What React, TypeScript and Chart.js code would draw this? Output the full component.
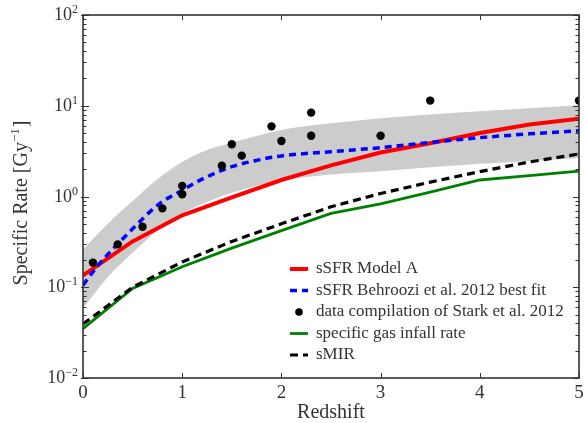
import React, { useEffect, useRef } from "react";
import { Chart, registerables } from "chart.js";
Chart.register(...registerables);

// ---- data ----
const bandZ = [0, 0.25, 0.5, 0.75, 1, 1.25, 1.5, 2, 2.5, 3, 3.5, 4, 4.5, 5];
const bandUpper = [0.26, 0.5, 0.89, 1.55, 2.4, 3.25, 3.9, 5.4, 6.4, 7.3, 8.0, 8.7, 9.4, 10.1];
const bandLower = [0.059, 0.13, 0.24, 0.42, 0.65, 0.87, 1.1, 1.5, 1.75, 1.9, 2.1, 2.3, 2.45, 2.65];

const modelZ = [0, 0.5, 1, 1.5, 2, 2.5, 3, 3.5, 4, 4.5, 5];
const modelA = [0.135, 0.32, 0.62, 0.98, 1.52, 2.2, 3.05, 3.86, 5.0, 6.2, 7.2];
const infallRate = [0.035, 0.097, 0.168, 0.27, 0.42, 0.65, 0.83, 1.12, 1.52, 1.7, 1.9];
const smirRate = [0.0394, 0.1, 0.19, 0.32, 0.5, 0.77, 1.08, 1.44, 1.88, 2.4, 2.94];

const behrooziZ = [0, 0.1, 0.25, 0.5, 0.75, 1, 1.25, 1.5, 1.75, 2, 2.5, 3, 3.5, 4, 4.5, 5];
const behrooziRate = [0.105, 0.148, 0.23, 0.44, 0.8, 1.17, 1.65, 2.13, 2.5, 2.8, 3.12, 3.45, 3.95, 4.45, 4.9, 5.3];

const starkZ = [0.1, 0.35, 0.6, 0.8, 1.0, 1.0, 1.4, 1.5, 1.6, 1.9, 2.0, 2.3, 2.3, 3.0, 3.5, 5.0];
const starkRate = [0.187, 0.297, 0.465, 0.74, 1.31, 1.06, 2.18, 3.76, 2.82, 5.93, 4.09, 8.4, 4.68, 4.68, 11.4, 11.4];

const yTickExponents = [-2, -1, 0, 1, 2];
const xTickValues = [0, 1, 2, 3, 4, 5];

const SERIF = "'Liberation Serif', 'DejaVu Serif', serif";
const TEXT = "#333333";

const pts = (xs: number[], ys: number[]) => xs.map((x, i) => ({ x, y: ys[i] }));

const decorPlugin = {
  id: "decor",
  afterDraw(chart: any) {
    const { ctx, chartArea: ca, scales } = chart;
    const xs = scales.x;
    const ys = scales.y;
    ctx.save();
    // ticks
    ctx.strokeStyle = "#333333";
    ctx.lineWidth = 1;
    ctx.beginPath();
    for (let d = -2; d <= 2; d++) {
      for (let k = 1; k <= 9; k++) {
        const v = k * Math.pow(10, d);
        if (v > 100.0001) continue;
        const py = Math.round(ys.getPixelForValue(v)) + 0.5;
        const len = k === 1 ? 6 : 3.5;
        ctx.moveTo(ca.left - (k === 1 ? 2 : 0), py);
        ctx.lineTo(ca.left + len, py);
        ctx.moveTo(ca.right, py);
        ctx.lineTo(ca.right - len, py);
      }
    }
    xTickValues.forEach((v) => {
      const px = Math.round(xs.getPixelForValue(v)) + 0.5;
      ctx.moveTo(px, ca.bottom);
      ctx.lineTo(px, ca.bottom - 5);
      ctx.moveTo(px, ca.top);
      ctx.lineTo(px, ca.top + 5);
    });
    ctx.stroke();
    // frame
    ctx.lineWidth = 1.6;
    ctx.strokeStyle = "#333333";
    ctx.strokeRect(ca.left, ca.top, ca.right - ca.left, ca.bottom - ca.top);

    // y tick labels 10^n
    ctx.fillStyle = TEXT;
    ctx.textBaseline = "alphabetic";
    yTickExponents.forEach((e) => {
      const py = ys.getPixelForValue(Math.pow(10, e));
      const expStr = e < 0 ? "\u2212" + Math.abs(e) : String(e);
      ctx.font = `12px ${SERIF}`;
      const ew = ctx.measureText(expStr).width;
      const right = ca.left - 5;
      ctx.textAlign = "left";
      ctx.fillText(expStr, right - ew, py - 2);
      ctx.font = `18px ${SERIF}`;
      ctx.textAlign = "right";
      ctx.fillText("10", right - ew, py + 5);
    });

    // y title
    ctx.save();
    ctx.translate(20, (ca.top + ca.bottom) / 2 + 7);
    ctx.rotate(-Math.PI / 2);
    const mainTxt = "Specific Rate [Gy";
    const supTxt = "\u22121";
    const endTxt = "]";
    ctx.font = `20px ${SERIF}`;
    const w1 = ctx.measureText(mainTxt).width;
    const w3 = ctx.measureText(endTxt).width;
    ctx.font = `13px ${SERIF}`;
    const w2 = ctx.measureText(supTxt).width;
    const x0 = -(w1 + w2 + w3) / 2;
    ctx.textAlign = "left";
    ctx.textBaseline = "alphabetic";
    ctx.font = `20px ${SERIF}`;
    ctx.fillText(mainTxt, x0, 7);
    ctx.font = `13px ${SERIF}`;
    ctx.fillText(supTxt, x0 + w1, -1);
    ctx.font = `20px ${SERIF}`;
    ctx.fillText(endTxt, x0 + w1 + w2 + 1, 7);
    ctx.restore();

    // legend
    const entries = [2, 3, 4, 5, 6];
    const hx0 = ca.left + 207;
    const hx1 = ca.left + 225;
    const tx = ca.left + 233;
    const y0 = ca.top + 254;
    const dy = 21.5;
    ctx.font = `17px ${SERIF}`;
    ctx.textAlign = "left";
    ctx.textBaseline = "middle";
    entries.forEach((di, i) => {
      const ds = chart.data.datasets[di];
      const yy = y0 + i * dy;
      if (ds.showLine === false) {
        ctx.fillStyle = ds.pointBackgroundColor;
        ctx.beginPath();
        ctx.arc((hx0 + hx1) / 2, yy, 3.8, 0, Math.PI * 2);
        ctx.fill();
      } else {
        ctx.strokeStyle = ds.borderColor;
        ctx.lineWidth = ds.borderWidth;
        ctx.setLineDash(ds.borderDash || []);
        ctx.beginPath();
        ctx.moveTo(hx0, yy);
        ctx.lineTo(hx1, yy);
        ctx.stroke();
        ctx.setLineDash([]);
      }
      ctx.fillStyle = TEXT;
      ctx.fillText(ds.label, tx, yy);
    });
    ctx.restore();
  },
};

export default function App() {
  const ref = useRef<HTMLCanvasElement | null>(null);
  useEffect(() => {
    document.body.style.margin = "0";
    const canvas = ref.current!;
    const chart = new Chart(canvas, {
      type: "line",
      data: {
        datasets: [
          {
            label: "band upper",
            data: pts(bandZ, bandUpper),
            borderWidth: 0,
            borderColor: "rgba(0,0,0,0)",
            backgroundColor: "#cccccc",
            pointRadius: 0,
            fill: "+1",
            cubicInterpolationMode: "monotone",
            order: 20,
          },
          {
            label: "band lower",
            data: pts(bandZ, bandLower),
            borderWidth: 0,
            borderColor: "rgba(0,0,0,0)",
            pointRadius: 0,
            fill: false,
            cubicInterpolationMode: "monotone",
            order: 19,
          },
          {
            label: "sSFR Model A",
            data: pts(modelZ, modelA),
            borderColor: "#ff0000",
            borderWidth: 4,
            pointRadius: 0,
            fill: false,
            order: 6,
          },
          {
            label: "sSFR Behroozi et al. 2012 best fit",
            data: pts(behrooziZ, behrooziRate),
            borderColor: "#0000ff",
            borderWidth: 3.5,
            borderDash: [7, 5],
            pointRadius: 0,
            fill: false,
            cubicInterpolationMode: "monotone",
            order: 5,
          },
          {
            label: "data compilation of Stark et al. 2012",
            data: pts(starkZ, starkRate),
            showLine: false,
            pointRadius: 4.2,
            pointBackgroundColor: "#000000",
            pointBorderColor: "#000000",
            pointBorderWidth: 0,
            borderColor: "#000000",
            fill: false,
            order: 1,
          },
          {
            label: "specific gas infall rate",
            data: pts(modelZ, infallRate),
            borderColor: "#008000",
            borderWidth: 2.8,
            pointRadius: 0,
            fill: false,
            order: 4,
          },
          {
            label: "sMIR",
            data: pts(modelZ, smirRate),
            borderColor: "#000000",
            borderWidth: 3.2,
            borderDash: [8, 5],
            pointRadius: 0,
            fill: false,
            order: 3,
          },
        ],
      },
      options: {
        animation: false,
        responsive: false,
        layout: { padding: { top: 15, right: 5, left: 0, bottom: 0 } },
        plugins: {
          legend: { display: false },
          tooltip: { enabled: false },
          filler: { drawTime: "beforeDatasetsDraw" },
        },
        scales: {
          x: {
            type: "linear",
            min: 0,
            max: 5,
            grid: { display: false, drawTicks: false },
            border: { display: false },
            afterBuildTicks: (scale: any) => {
              scale.ticks = xTickValues.map((v) => ({ value: v }));
            },
            ticks: {
              font: { family: SERIF, size: 19 },
              color: TEXT,
              padding: 4,
              maxRotation: 0,
              callback: (v: any) => String(v),
            },
            title: {
              display: true,
              text: "Redshift",
              font: { family: SERIF, size: 20, lineHeight: 1 },
              color: TEXT,
              padding: { top: 0, bottom: 0.5 },
            },
            afterFit: (scale: any) => {
              scale.height = 45;
              scale.paddingLeft = 0;
              scale.paddingRight = 0;
            },
          },
          y: {
            type: "logarithmic",
            min: 0.01,
            max: 100,
            grid: { display: false, drawTicks: false },
            border: { display: false },
            ticks: { display: false },
            afterFit: (scale: any) => {
              scale.width = 83;
            },
          },
        },
      },
      plugins: [decorPlugin],
    });
    return () => chart.destroy();
  }, []);
  return <canvas ref={ref} width={584} height={423} style={{ display: "block" }} />;
}
